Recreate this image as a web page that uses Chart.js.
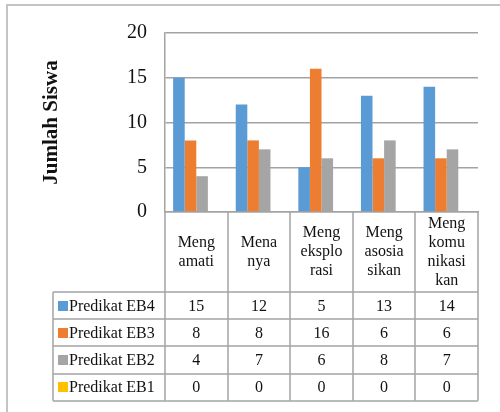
<!DOCTYPE html>
<html>
<head>
<meta charset="utf-8">
<script src="https://cdn.jsdelivr.net/npm/chart.js@4.4.1/dist/chart.umd.min.js"></script>
<style>
    html, body { margin: 0; padding: 0; background: #ffffff; }
    #wrap { width: 500px; height: 412px; }
</style>
</head>
<body>
<div id="wrap"><canvas id="chart" width="500" height="412"></canvas></div>
<script>
// Data
const categories = [
    ['Meng', 'amati'],
    ['Mena', 'nya'],
    ['Meng', 'eksplo', 'rasi'],
    ['Meng', 'asosia', 'sikan'],
    ['Meng', 'komu', 'nikasi', 'kan']
];
const seriesNames = ['Predikat EB4', 'Predikat EB3', 'Predikat EB2', 'Predikat EB1'];
const eb4 = [15, 12, 5, 13, 14];
const eb3 = [8, 8, 16, 6, 6];
const eb2 = [4, 7, 6, 8, 7];
const eb1 = [0, 0, 0, 0, 0];
const yTicks = [0, 5, 10, 15, 20];

const COLORS = ['#5b9bd5', '#ed7d31', '#a5a5a5', '#ffc000'];
const SERIF = "'Liberation Serif', 'Times New Roman', serif";
const LINE = '#a3a3a3';

const allSeries = [eb4, eb3, eb2, eb1];

// Frame + data table under the plot
const tablePlugin = {
    id: 'dataTable',
    beforeDraw(chart) {
        const { ctx } = chart;
        ctx.save();
        ctx.fillStyle = '#ffffff';
        ctx.fillRect(0, 0, chart.width, chart.height);
        ctx.strokeStyle = '#c4c4c4';
        ctx.lineWidth = 2;
        ctx.strokeRect(7, 5, 700, 700);
        ctx.restore();
    },
    afterDraw(chart) {
        const { ctx, chartArea, scales } = chart;
        const x = scales.x;
        const tableLeft = 53;
        const headTop = chartArea.bottom;
        const headBottom = 292;
        const rowH = 27.2;
        const tableBottom = headBottom + rowH * allSeries.length;

        ctx.save();
        ctx.strokeStyle = LINE;
        ctx.lineWidth = 1.5;

        // vertical lines at category edges
        for (let i = 0; i <= categories.length; i++) {
            const px = Math.round(x.getPixelForValue(i - 0.5));
            ctx.beginPath();
            ctx.moveTo(px, headTop);
            ctx.lineTo(px, tableBottom);
            ctx.stroke();
        }
        // left border of legend column
        ctx.beginPath();
        ctx.moveTo(tableLeft, headBottom);
        ctx.lineTo(tableLeft, tableBottom);
        ctx.stroke();
        // horizontal row lines
        for (let r = 0; r <= allSeries.length; r++) {
            const py = Math.round(headBottom + r * rowH);
            ctx.beginPath();
            ctx.moveTo(tableLeft, py);
            ctx.lineTo(chartArea.right, py);
            ctx.stroke();
        }

        ctx.fillStyle = '#111111';
        ctx.textAlign = 'center';
        ctx.textBaseline = 'middle';
        ctx.font = '16px ' + SERIF;

        // header labels, centred in their cells
        const headMid = (headTop + headBottom) / 2;
        const lh = 19;
        categories.forEach((lines, i) => {
            const cx = x.getPixelForValue(i);
            const y0 = headMid - (lines.length - 1) * lh / 2;
            lines.forEach((t, k) => ctx.fillText(t, cx, y0 + k * lh));
        });

        // data rows
        allSeries.forEach((vals, r) => {
            const cy = headBottom + r * rowH + rowH / 2;
            ctx.fillStyle = COLORS[r];
            ctx.fillRect(58, Math.round(cy - 5), 10, 10);
            ctx.fillStyle = '#111111';
            ctx.textAlign = 'left';
            ctx.fillText(seriesNames[r], 69, cy + 1);
            ctx.textAlign = 'center';
            vals.forEach((v, i) => ctx.fillText(String(v), x.getPixelForValue(i), cy + 1));
        });
        ctx.restore();
    }
};

new Chart(document.getElementById('chart'), {
    type: 'bar',
    data: {
        labels: categories.map(c => c.join(' ')),
        datasets: allSeries.map((vals, i) => ({
            label: seriesNames[i],
            data: vals,
            backgroundColor: COLORS[i],
            borderWidth: 0,
            categoryPercentage: 0.74,
            barPercentage: 1
        }))
    },
    options: {
        responsive: false,
        animation: false,
        layout: { padding: { left: 7, top: 33, right: 22, bottom: 200 } },
        plugins: {
            legend: { display: false },
            tooltip: { enabled: false }
        },
        scales: {
            x: {
                ticks: { display: false },
                grid: { display: false },
                border: { display: true, color: LINE, width: 1.5 },
                afterFit(scale) { scale.height = 0; }
            },
            y: {
                min: 0,
                max: 20,
                afterBuildTicks(scale) { scale.ticks = yTicks.map(v => ({ value: v })); },
                ticks: {
                    padding: 18,
                    color: '#111111',
                    font: { family: SERIF, size: 20 }
                },
                grid: { color: LINE, lineWidth: 1.5, drawTicks: false },
                border: { display: true, color: LINE, width: 1.5 },
                title: {
                    display: true,
                    text: 'Jumlah Siswa',
                    color: '#111111',
                    font: { family: SERIF, size: 21, weight: 'bold' },
                    padding: { top: 32, bottom: 0 }
                },
                afterFit(scale) { scale.width = 158; }
            }
        }
    },
    plugins: [tablePlugin]
});
</script>
</body>
</html>
